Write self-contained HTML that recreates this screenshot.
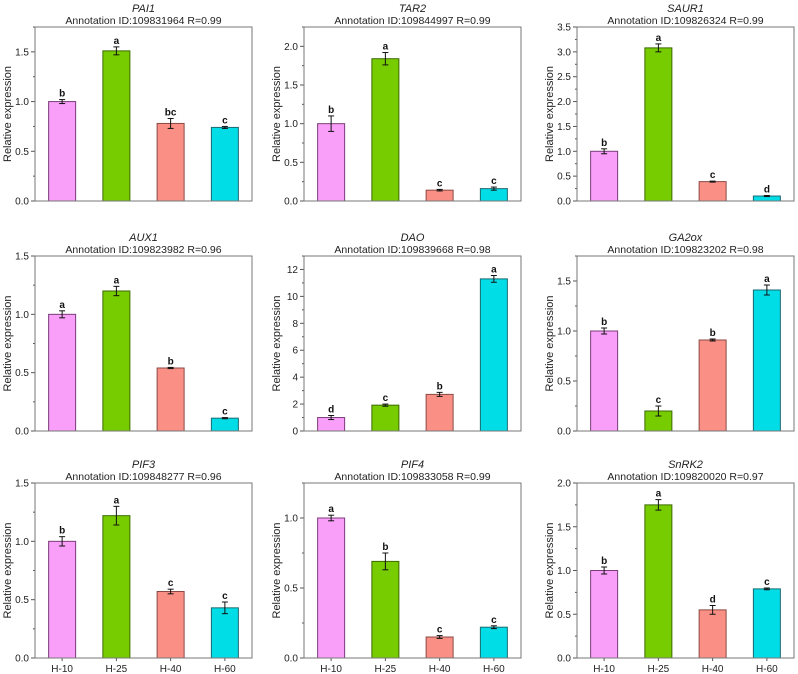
<!DOCTYPE html>
<html><head><meta charset="utf-8">
<style>
body{margin:0;background:#fff;}
svg{display:block;font-family:"Liberation Sans",Arial,sans-serif;}
</style></head>
<body>
<svg id="chart" width="798" height="674" xmlns="http://www.w3.org/2000/svg"></svg>
<script>
const categories = ["H-10","H-25","H-40","H-60"];
const genes = ["PAI1","TAR2","SAUR1","AUX1","DAO","GA2ox","PIF3","PIF4","SnRK2"];
const annotations = ["109831964 R=0.99","109844997 R=0.99","109826324 R=0.99","109823982 R=0.96","109839668 R=0.98","109823202 R=0.98","109848277 R=0.96","109833058 R=0.99","109820020 R=0.97"];
const valPAI1 = [1.0,1.51,0.78,0.74];
const valTAR2 = [1.0,1.84,0.14,0.16];
const valSAUR1 = [1.0,3.08,0.39,0.10];
const valAUX1 = [1.0,1.20,0.54,0.11];
const valDAO = [1.0,1.92,2.72,11.3];
const valGA2ox = [1.0,0.20,0.91,1.41];
const valPIF3 = [1.0,1.22,0.57,0.43];
const valPIF4 = [1.0,0.69,0.15,0.22];
const valSnRK2 = [1.0,1.75,0.55,0.79];
const errPAI1 = [0.02,0.04,0.05,0.01];
const errTAR2 = [0.10,0.08,0.01,0.02];
const errSAUR1 = [0.05,0.08,0.01,0.01];
const errAUX1 = [0.03,0.04,0.005,0.005];
const errDAO = [0.15,0.08,0.15,0.25];
const errGA2ox = [0.03,0.05,0.01,0.05];
const errPIF3 = [0.04,0.08,0.02,0.05];
const errPIF4 = [0.02,0.06,0.01,0.01];
const errSnRK2 = [0.04,0.06,0.05,0.01];
const sigPAI1 = ["b","a","bc","c"];
const sigTAR2 = ["b","a","c","c"];
const sigSAUR1 = ["b","a","c","d"];
const sigAUX1 = ["a","a","b","c"];
const sigDAO = ["d","c","b","a"];
const sigGA2ox = ["b","c","b","a"];
const sigPIF3 = ["b","a","c","c"];
const sigPIF4 = ["a","b","c","c"];
const sigSnRK2 = ["b","a","d","c"];
const yMax = [1.75,2.25,3.5,1.5,13,1.75,1.5,1.25,2.0];
const yStep = [0.5,0.5,0.5,0.5,2,0.5,0.5,0.5,0.5];
const yDecimals = [1,1,1,1,0,1,1,1,1];

const values=[valPAI1,valTAR2,valSAUR1,valAUX1,valDAO,valGA2ox,valPIF3,valPIF4,valSnRK2];
const errors=[errPAI1,errTAR2,errSAUR1,errAUX1,errDAO,errGA2ox,errPIF3,errPIF4,errSnRK2];
const sigs=[sigPAI1,sigTAR2,sigSAUR1,sigAUX1,sigDAO,sigGA2ox,sigPIF3,sigPIF4,sigSnRK2];
const fills=["#f99ff9","#77cc00","#f98f85","#00dde6"];
const strokes=["#7a3c7a","#3c6a00","#8a4a44","#1a6a70"];
const colLeft=[35,304,577], rowTop=[27,256,483], rowBot=[201,431,658], W=217;
const svg=document.getElementById('chart');
const NS="http://www.w3.org/2000/svg";
function mk(tag,attrs,parent){const e=document.createElementNS(NS,tag);for(const k in attrs)e.setAttribute(k,attrs[k]);parent.appendChild(e);return e;}

genes.forEach((g,i)=>{
  const L=colLeft[i%3], T=rowTop[Math.floor(i/3)], B=rowBot[Math.floor(i/3)];
  const H=B-T;
  const y=v=>B-v/yMax[i]*H;
  const x=j=>L+W/4*(j+0.5);
  const grp=mk('g',{},svg);
  
  
  let t=mk('text',{x:L+W/2,y:T-15,'text-anchor':'middle','font-size':11,'font-style':'italic',fill:'#222'},grp);
  t.textContent=g;
  
  
  t=mk('text',{x:L+W/2,y:T-3,'text-anchor':'middle','font-size':10.5,fill:'#222'},grp);
  t.textContent='Annotation ID:'+annotations[i];
  
  
  t=mk('text',{x:0,y:0,'text-anchor':'middle','font-size':11,fill:'#222',transform:`translate(${L-24},${(T+B)/2}) rotate(-90)`},grp);
  t.textContent='Relative expression';
  
  
  // ticks
  for(let v=0; v<=yMax[i]+1e-9; v+=yStep[i]/2){
    const major=Math.abs(v/yStep[i]-Math.round(v/yStep[i]))<1e-6;
    mk('line',{x1:L-(major?4:2),x2:L,y1:y(v),y2:y(v),stroke:'#555','stroke-width':1},grp);
    if(major){
      t=mk('text',{x:L-6,y:y(v)+3.5,'text-anchor':'end','font-size':10,fill:'#222'},grp);
      t.textContent=v.toFixed(yDecimals[i]);
      
      
    }
  }
  values[i].forEach((v,j)=>{
    const bw=27, cx=x(j);
    const r=mk('rect',{x:cx-bw/2,y:y(v),width:bw,height:B-y(v),fill:fills[j],stroke:strokes[j],'stroke-width':1},grp);
    
    
    const e=errors[i][j], yt=y(v+e), yb=y(v-e);
    mk('line',{x1:cx,x2:cx,y1:yt,y2:yb,stroke:'#111','stroke-width':1},grp);
    mk('line',{x1:cx-3,x2:cx+3,y1:yt,y2:yt,stroke:'#111','stroke-width':1},grp);
    mk('line',{x1:cx-3,x2:cx+3,y1:yb,y2:yb,stroke:'#111','stroke-width':1},grp);
    const s=mk('text',{x:cx,y:yt-3,'text-anchor':'middle','font-size':10,'font-weight':'bold',fill:'#111'},grp);
    s.textContent=sigs[i][j];
    
    
    if(i>=6){
      mk('line',{x1:cx,x2:cx,y1:B,y2:B+3,stroke:'#555'},grp);
      const c=mk('text',{x:cx,y:B+14,'text-anchor':'middle','font-size':10,fill:'#222'},grp);
      c.textContent=categories[j];
      
      
    }
  });
  const f=mk('rect',{x:L,y:T,width:W,height:H,fill:'none',stroke:'#777','stroke-width':1},grp);
  
  
});
</script>
</body></html>
